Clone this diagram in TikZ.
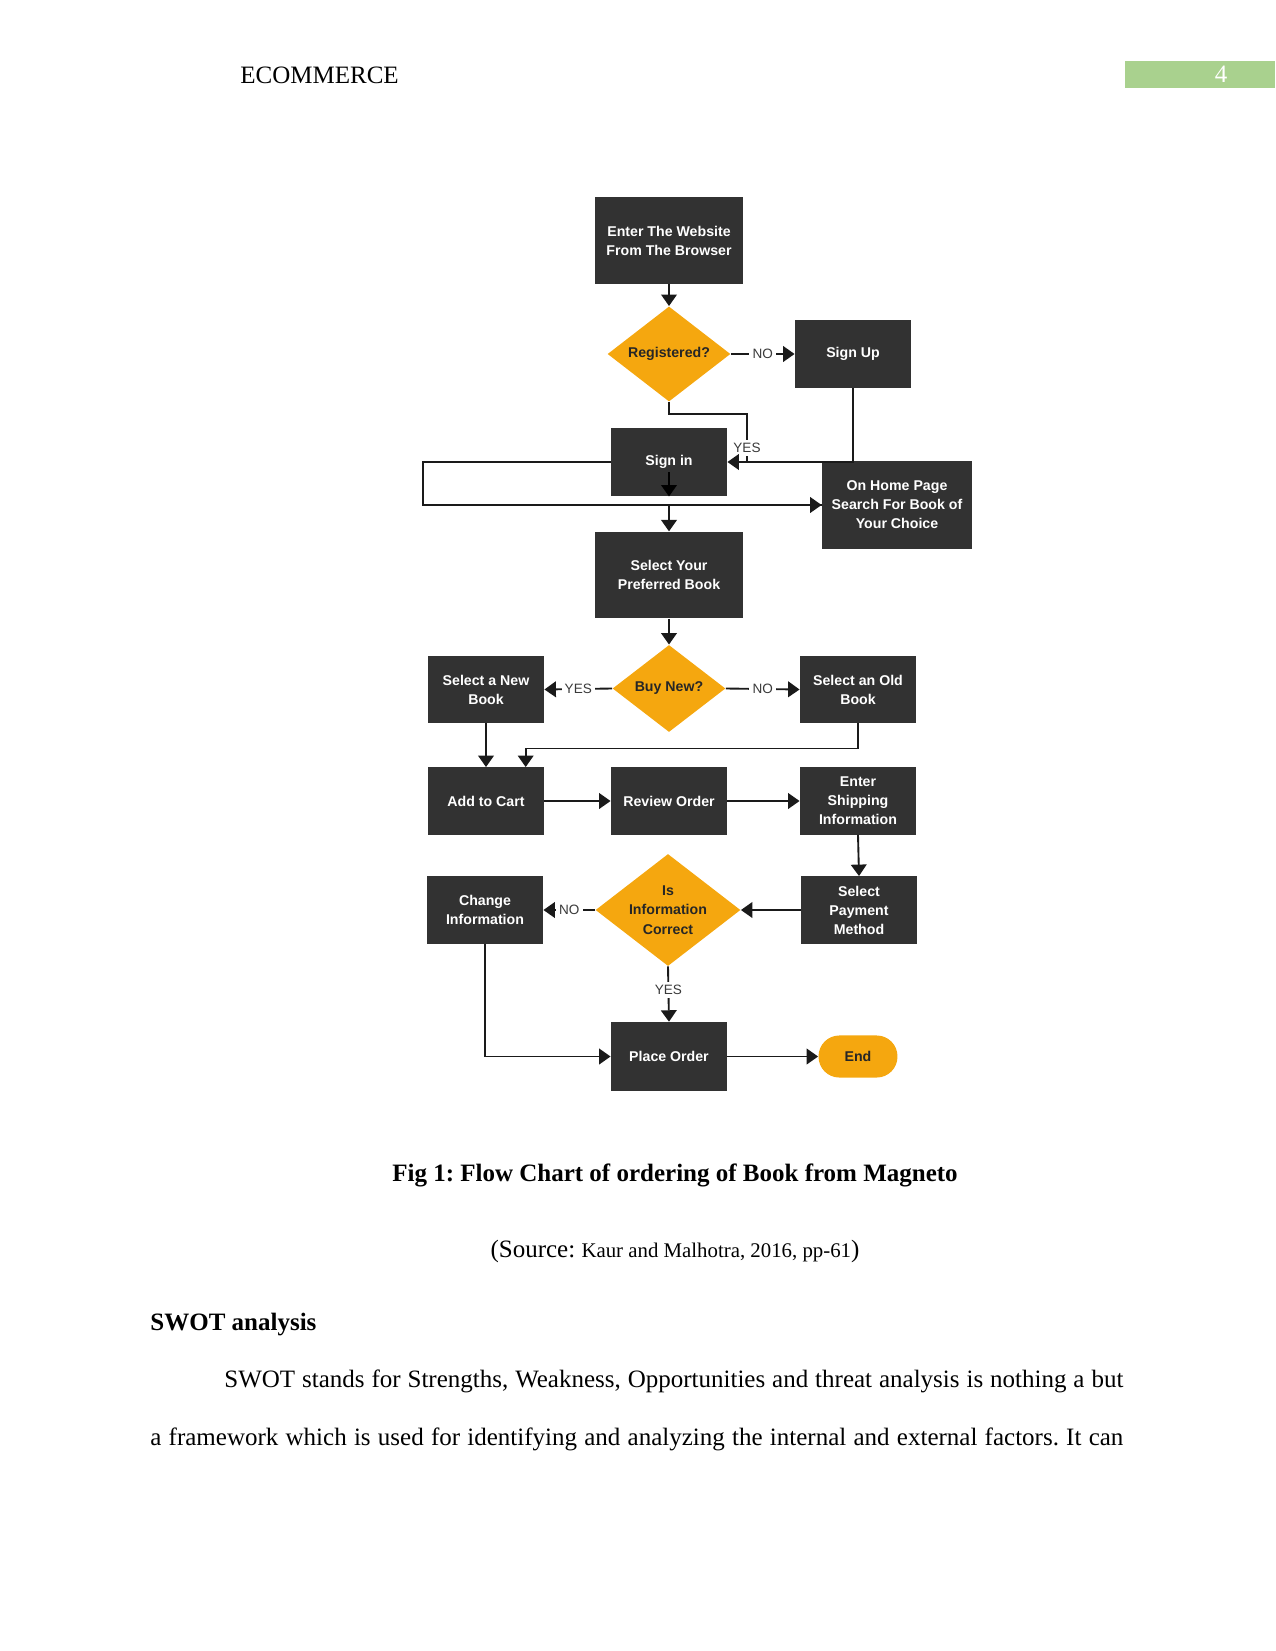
\documentclass[tikz,border=0pt]{standalone}
\usepackage{fontspec}
\setmainfont{Liberation Serif}
\setsansfont{Liberation Sans}
\usetikzlibrary{shapes.geometric,arrows.meta}
\definecolor{boxgray}{HTML}{323232}
\definecolor{dorange}{HTML}{F5A70F}
\definecolor{hgreen}{HTML}{A9D18E}
\definecolor{linec}{HTML}{1A1A1A}
\definecolor{lblc}{HTML}{3A3A3A}
\begin{document}
\frenchspacing
\begin{tikzpicture}[x=0.48pt,y=-0.48pt,
  fbox/.style={rectangle, fill=boxgray, text=white, inner sep=0pt, align=center,
    font=\fontsize{6.8}{9.1}\selectfont\sffamily\bfseries,
    minimum width=55.7pt, minimum height=32.2pt},
  bigbox/.style={fbox, minimum width=71.5pt, minimum height=41.5pt},
  dia/.style={diamond, fill=dorange, text=black!85, inner sep=0pt, align=center,
    font=\fontsize{6.8}{9.5}\selectfont\sffamily\bfseries},
  lbl/.style={fill=white, inner sep=1.5pt, text=lblc, font=\fontsize{6.5}{8}\selectfont\sffamily},
  ln/.style={line width=0.9pt, draw=linec},
  arr/.style={ln, -{Triangle[length=5.5pt,width=7.5pt]}},
  body/.style={font=\fontsize{12}{14}\selectfont, inner sep=0pt}
]
\useasboundingbox (0,0) rectangle (1275,1651);

% page header
\node[body, anchor=base west] (hdr) at (240,84) {ECOMMERCE};
\node[fill=hgreen, anchor=north west, inner sep=0pt, minimum width=72pt, minimum height=13pt] (pgbox) at (1125,61) {};
\node[body, text=white, anchor=base] (pgnum) at (1221,83) {4};

% flowchart nodes
\node[bigbox] (enter) at (669,240.5) {Enter The Website\\From The Browser};
\node[dia, minimum width=59pt, minimum height=41.8pt] (reg) at (669,354) {Registered?};
\node[fbox] (signup) at (853,354) {Sign Up};
\node[fbox, minimum height=32.7pt] (signin) at (669,462) {Sign in};
\node[bigbox, minimum width=72pt, minimum height=42.2pt] (home) at (897,505) {On Home Page\\Search For Book of\\Your Choice};
\node[bigbox] (select) at (669,575) {Select Your\\Preferred Book};
\node[dia, minimum width=54.2pt, minimum height=41.8pt] (buy) at (669,688.5) {Buy New?};
\node[fbox] (newb) at (486,689.5) {Select a New\\Book};
\node[fbox] (oldb) at (858,689.5) {Select an Old\\Book};
\node[fbox] (cart) at (486,801) {Add to Cart};
\node[fbox] (review) at (669,801) {Review Order};
\node[fbox] (ship) at (858,801) {Enter\\Shipping\\Information};
\node[fbox] (pay) at (859,910) {Select\\Payment\\Method};
\node[dia, shape aspect=1.3, minimum width=69.6pt, minimum height=53.8pt] (isc) at (668,910) {Is\\Information\\Correct};
\node[fbox] (change) at (485,910) {Change\\Information};
\node[fbox, minimum height=33pt] (place) at (669,1056.5) {Place Order};
\node[rectangle, rounded corners=10pt, fill=dorange, text=black!85, inner sep=0pt,
  minimum width=37.9pt, minimum height=20.2pt, font=\fontsize{6.8}{8}\selectfont\sffamily\bfseries] (end) at (858,1056.5) {End};

\coordinate (y1) at (747,414);
\coordinate (y2) at (747,462);

% connectors
\draw[arr] (enter.south) -- (reg.north);
\draw[arr] (reg.east) -- node[lbl] (lno1) {NO} (signup.west);
\draw[ln] (reg.south) |- (y1) -- node[lbl, pos=0.7] (lyes1) {YES} (y2);
\draw[arr] (signup.south) |- (signin.east);
\draw[arr, draw=black] ([yshift=-5pt]signin.center) -- (signin.south);
\draw[arr] (signin.west) -- ++(-188,0) |- (home.west);
\draw[arr] (home.west) -| (select.north);
\draw[arr] (select.south) -- (buy.north);
\draw[arr] (buy.west) -- node[lbl] (lyes2) {YES} (newb.east);
\draw[arr] (buy.east) -- node[lbl] (lno2) {NO} (oldb.west);
\draw[arr] (newb.south) -- (cart.north);
\draw[arr] (oldb.south) -- ++(0,25) -| ([xshift=-9pt]cart.north east);
\draw[arr] (cart.east) -- (review.west);
\draw[arr] (review.east) -- (ship.west);
\draw[arr] (ship.south) -- (pay.north);
\draw[arr] (pay.west) -- (isc.east);
\draw[arr] (isc.west) -- node[lbl] (lno3) {NO} (change.east);
\draw[arr] (isc.south) -- node[lbl, pos=0.43] (lyes3) {YES} (place.north);
\draw[arr] (change.south) |- (place.west);
\draw[arr] (place.east) -- (end.west);

% page text
\node[body, anchor=base, font=\fontsize{12}{14}\selectfont\bfseries] (cap) at (675,1181) {Fig 1: Flow Chart of ordering of Book from Magneto};
\node[body, anchor=base] (src) at (675,1257) {(Source: {\fontsize{10}{12}\selectfont Kaur and Malhotra, 2016, pp-61})};
\node[body, anchor=base west, font=\fontsize{12}{14}\selectfont\bfseries] (swot) at (150,1330) {SWOT analysis};
\node[body, anchor=base west] (par1) at (224,1387) {\makebox[431.5pt][s]{SWOT stands for Strengths, Weakness, Opportunities and threat analysis is nothing a but}};
\node[body, anchor=base west] (par2) at (150,1445) {\makebox[467pt][s]{a framework which is used for identifying and analyzing the internal and external factors. It can}};
\end{tikzpicture}
\end{document}
